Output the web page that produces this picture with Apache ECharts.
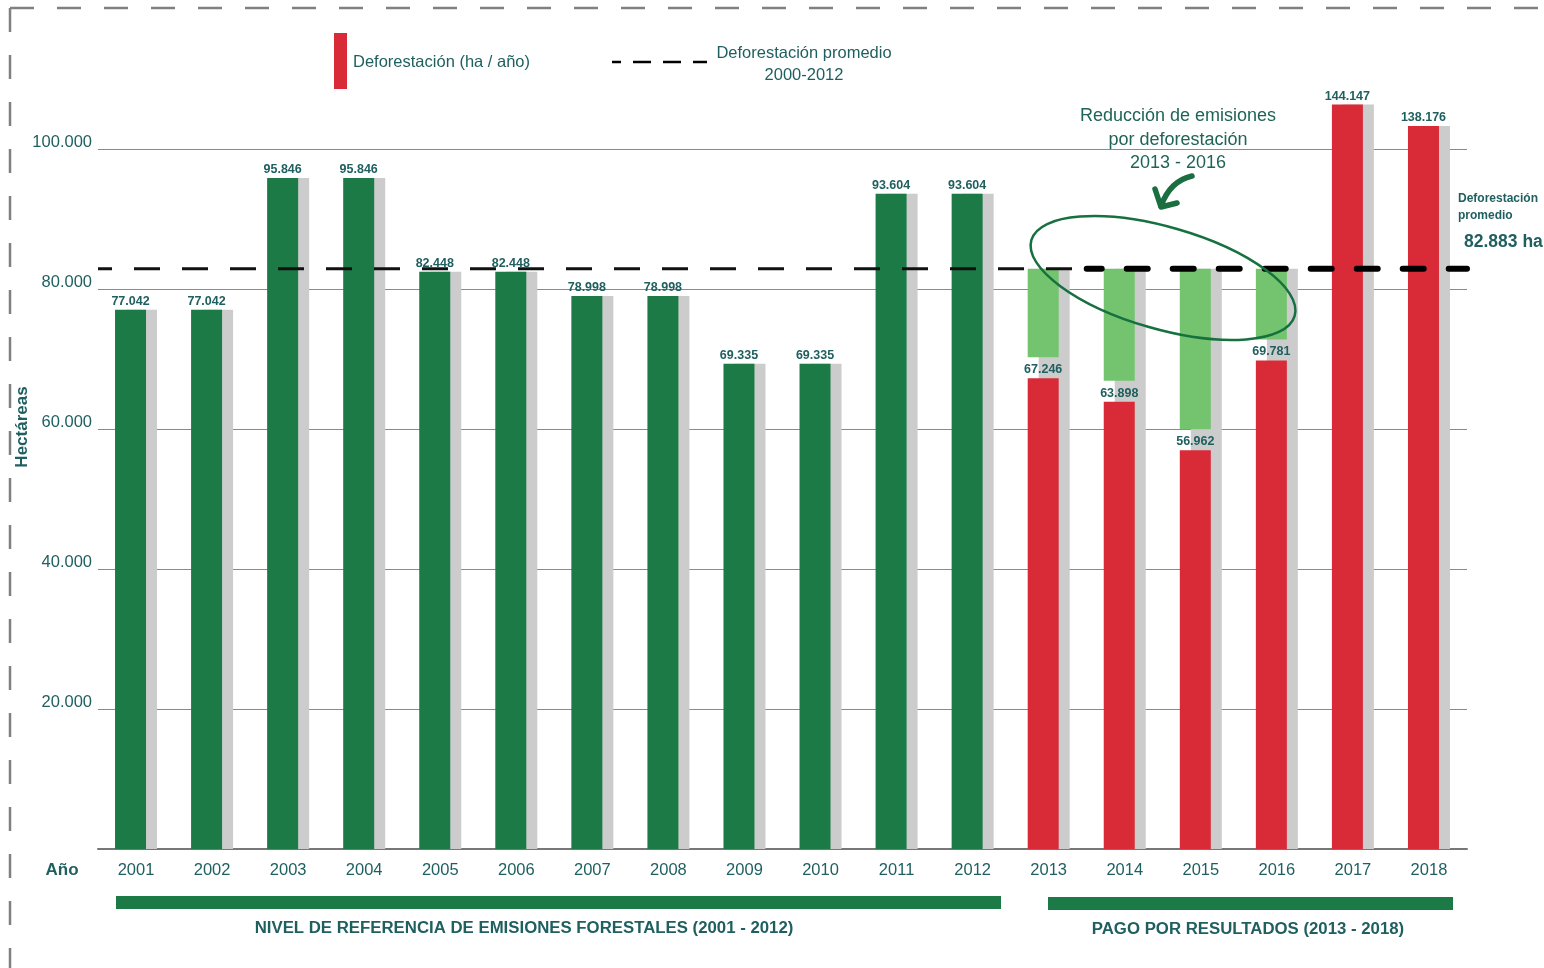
<!DOCTYPE html>
<html>
<head>
<meta charset="utf-8">
<script src="https://cdn.jsdelivr.net/npm/echarts@6/dist/echarts.min.js"></script>
<style>
  html, body { margin: 0; padding: 0; background: #fff; }
  #main { width: 1544px; height: 968px; }
</style>
</head>
<body>
<div id="main"></div>
<script>
// data
var years = ['2001', '2002', '2003', '2004', '2005', '2006', '2007', '2008', '2009',
  '2010', '2011', '2012', '2013', '2014', '2015', '2016', '2017', '2018'];
var deforestation = [77042, 77042, 95846, 95846, 82448, 82448, 78998, 78998, 69335,
  69335, 93604, 93604, 67246, 63898, 56962, 69781, 144147, 138176];
var average = 82883;
var yTicks = [20000, 40000, 60000, 80000, 100000];
var firstResultIdx = 12; // 2013

var GREEN = '#1b7a45', RED = '#d92a37', LIGHT = '#74c46f', GRAY = '#cccccc';
var TEXT = '#1f5f5f';
var FONT = '"Liberation Sans", Arial, sans-serif';
var labelGap = 3000; // space left under the light green bars for the value label

function fmt(v) {
  return String(v).replace(/\B(?=(\d{3})+(?!\d))/g, '.');
}

var reduced = deforestation.map(function (v, i) { return i >= firstResultIdx && v < average; });

var mainData = deforestation.map(function (v, i) {
  return { value: v, itemStyle: { color: i < firstResultIdx ? GREEN : RED } };
});
var gapData = deforestation.map(function (v, i) { return reduced[i] ? labelGap : '-'; });
var reductionData = deforestation.map(function (v, i) { return reduced[i] ? average - v - labelGap : '-'; });
var shadowData = deforestation.map(function (v, i) { return reduced[i] ? average : v; });

// average line: thin over the reference period, bold over the results period
var avgThin = [[-0.5, average], [12.5, average]];
var avgBold = [[12.5, average], [17.5, average]];

// grid lines with their tick labels
var gridLines = yTicks.map(function (t) { return { yAxis: t }; });

var myChart = echarts.init(document.getElementById('main'));
var option = {
  animation: false,
  textStyle: { fontFamily: FONT },
  grid: { left: 98, right: 77, top: 91.6, bottom: 119 },
  xAxis: [
    {
      type: 'category',
      data: years,
      axisLine: { lineStyle: { color: '#777', width: 2 } },
      axisTick: { show: false },
      axisLabel: { color: TEXT, fontSize: 16.5, margin: 13, fontFamily: FONT }
    },
    { type: 'value', min: -0.5, max: 17.5, show: false }
  ],
  yAxis: {
    type: 'value',
    min: 0,
    max: 146000,
    interval: 20000,
    breaks: [
      { start: 103000, end: 137900, gap: 0 },
      { start: 139000, end: 141900, gap: 0 }
    ],
    breakArea: { show: false },
    axisLine: { show: false },
    axisTick: { show: false },
    splitLine: { show: false },
    axisLabel: { show: false }
  },
  series: [
    {
      name: 'Deforestación (ha / año)',
      type: 'bar',
      stack: 'a',
      barWidth: 31,
      barGap: '-64.5%',
      z: 3,
      data: mainData,
      label: {
        show: true, position: 'top', distance: 2,
        color: TEXT, fontSize: 12.5, fontWeight: 'bold', fontFamily: FONT,
        formatter: function (p) { return fmt(p.value); }
      },
      markLine: {
        silent: true,
        symbol: 'none',
        z: 1,
        label: {
          show: true, position: 'start', distance: 6,
          offset: [0, -7],
          color: TEXT, fontSize: 16.5, fontFamily: FONT,
          formatter: function (p) { return fmt(p.value); }
        },
        lineStyle: { color: '#8a8a8a', width: 1.2, type: 'solid' },
        data: gridLines
      }
    },
    {
      name: 'gap',
      type: 'bar',
      stack: 'a',
      barWidth: 31,
      z: 3,
      itemStyle: { color: 'rgba(0,0,0,0)' },
      data: gapData
    },
    {
      name: 'Reducción',
      type: 'bar',
      stack: 'a',
      barWidth: 31,
      z: 3,
      itemStyle: { color: LIGHT },
      data: reductionData
    },
    {
      name: 'sombra',
      type: 'bar',
      barWidth: 31,
      barGap: '-64.5%',
      z: 1,
      itemStyle: { color: GRAY },
      data: shadowData
    },
    {
      name: 'Deforestación promedio',
      type: 'line',
      xAxisIndex: 1,
      z: 10,
      silent: true,
      symbol: 'none',
      lineStyle: { color: '#111', width: 3, type: [26, 22], dashOffset: 12 },
      data: avgThin
    },
    {
      name: 'Deforestación promedio 2013',
      type: 'line',
      xAxisIndex: 1,
      z: 10,
      silent: true,
      symbol: 'none',
      lineStyle: { color: '#000', width: 6, type: [21, 25], cap: 'round', dashOffset: 6 },
      data: avgBold
    }
  ],
  graphic: [
    // dashed frame
    { type: 'line', shape: { x1: 10, y1: 8, x2: 1544, y2: 8 }, style: { stroke: '#808080', lineWidth: 2.5, lineDash: [24, 23] } },
    { type: 'line', shape: { x1: 10, y1: 8, x2: 10, y2: 968 }, style: { stroke: '#808080', lineWidth: 2.5, lineDash: [24, 23] } },
    // legend
    { type: 'rect', shape: { x: 334, y: 33, width: 13, height: 56 }, style: { fill: RED } },
    { type: 'text', x: 353, y: 62, style: { text: 'Deforestación (ha / año)', fill: TEXT, font: '16.5px ' + FONT, verticalAlign: 'middle' } },
    { type: 'line', shape: { x1: 612, y1: 62, x2: 707, y2: 62 }, style: { stroke: '#000', lineWidth: 2.5, lineDash: [18, 12], lineDashOffset: 9 } },
    { type: 'text', x: 804, y: 64, style: { text: 'Deforestación promedio\n2000-2012', fill: TEXT, font: '16.5px ' + FONT, lineHeight: 22, align: 'center', verticalAlign: 'middle' } },
    // annotation
    { type: 'text', x: 1178, y: 140, style: { text: 'Reducción de emisiones\npor deforestación\n2013 - 2016', fill: '#1f6456', font: '18px ' + FONT, lineHeight: 23.5, align: 'center', verticalAlign: 'middle' } },
    { type: 'bezierCurve', shape: { x1: 1192, y1: 176, x2: 1161, y2: 206, cpx1: 1170, cpy1: 181 }, style: { stroke: '#1b6e40', lineWidth: 5.5, fill: null, lineCap: 'round' } },
    { type: 'polyline', shape: { points: [[1155, 189], [1161, 207], [1177, 203]] }, style: { stroke: '#1b6e40', lineWidth: 5.5, fill: null, lineCap: 'round', lineJoin: 'round' } },
    { type: 'ellipse', x: 1163, y: 278, rotation: -0.28, z: 20, shape: { cx: 0, cy: 0, rx: 137, ry: 51 }, style: { stroke: '#17703f', lineWidth: 2.5, fill: null } },
    // right side label
    { type: 'text', x: 1458, y: 207, style: { text: 'Deforestación\npromedio', fill: TEXT, font: 'bold 12px ' + FONT, lineHeight: 17, verticalAlign: 'middle' } },
    { type: 'text', x: 1464, y: 242, style: { text: '82.883 ha', fill: TEXT, font: 'bold 17.5px ' + FONT, verticalAlign: 'middle' } },
    // axis titles
    { type: 'text', x: 62, y: 870, style: { text: 'Año', fill: TEXT, font: 'bold 17px ' + FONT, align: 'center', verticalAlign: 'middle' } },
    { type: 'text', x: 22, y: 427, rotation: Math.PI / 2, style: { text: 'Hectáreas', fill: TEXT, font: 'bold 17px ' + FONT, align: 'center', verticalAlign: 'middle' } },
    // period bands
    { type: 'rect', shape: { x: 116, y: 896, width: 885, height: 13 }, style: { fill: GREEN } },
    { type: 'text', x: 524, y: 928, style: { text: 'NIVEL DE REFERENCIA DE EMISIONES FORESTALES (2001 - 2012)', fill: TEXT, font: 'bold 16.8px ' + FONT, align: 'center', verticalAlign: 'middle' } },
    { type: 'rect', shape: { x: 1048, y: 897, width: 405, height: 13 }, style: { fill: GREEN } },
    { type: 'text', x: 1248, y: 929, style: { text: 'PAGO POR RESULTADOS (2013 - 2018)', fill: TEXT, font: 'bold 16.8px ' + FONT, align: 'center', verticalAlign: 'middle' } }
  ]
};
myChart.setOption(option);
</script>
</body>
</html>
